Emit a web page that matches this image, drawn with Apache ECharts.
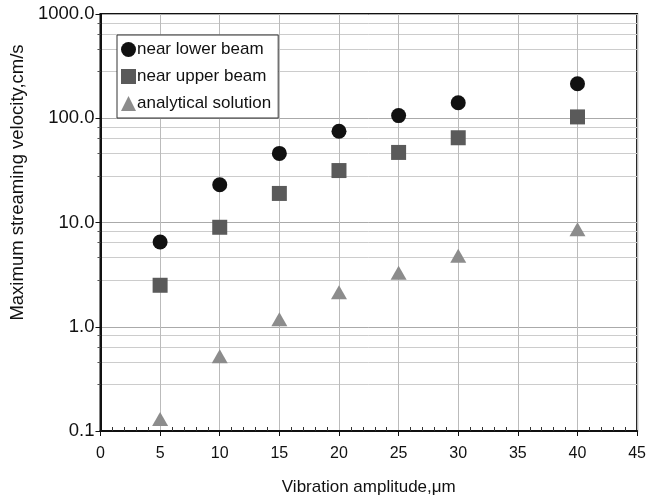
<!DOCTYPE html>
<html>
<head>
<meta charset="utf-8">
<script src="https://cdn.jsdelivr.net/npm/echarts@6/dist/echarts.min.js"></script>
<style>
	html, body { margin: 0; padding: 0; background: #fff; }
	#chart { width: 649px; height: 501px; }
</style>
</head>
<body>
<div id="chart"></div>
<script>
// amplitude (um)
var amplitudes = [5, 10, 15, 20, 25, 30, 40];
// max streaming velocity (cm/s)
var nearLowerBeam = [6.5, 23, 46, 75, 106, 141, 214];
var nearUpperBeam = [2.5, 9, 19, 31.5, 47, 65, 103];
var analyticalSolution = [0.13, 0.52, 1.18, 2.14, 3.3, 4.8, 8.6];

var seriesNames = ['near lower beam', 'near upper beam', 'analytical solution'];

function pairs(ys)
{
	return amplitudes.map(function(x, i) { return [x, ys[i]]; });
}

var fontFamily = 'Liberation Sans, Arial, sans-serif';

var chart = echarts.init(document.getElementById('chart'));

var options =
{
	backgroundColor: '#fff',
	animation: false,
	textStyle: { fontFamily: fontFamily, color: '#111' },
	grid:
	{
		left: 98,
		right: 9,
		top: 14,
		bottom: 69,
		show: true,
		borderColor: '#111',
		borderWidth: 2
	},
	legend:
	{
		orient: 'vertical',
		left: 117,
		top: 35,
		itemGap: 10,
		itemWidth: 15,
		itemHeight: 15,
		padding: [6, 7, 6, 4],
		borderColor: '#333',
		borderWidth: 1,
		backgroundColor: '#fff',
		textStyle: { fontSize: 17, color: '#111', fontFamily: fontFamily, padding: [0, 0, 0, -4] },
		data: seriesNames
	},
	xAxis:
	{
		type: 'value',
		min: 0,
		max: 45,
		interval: 5,
		name: 'Vibration amplitude,\u03bcm',
		nameLocation: 'middle',
		nameGap: 48,
		nameTextStyle: { fontSize: 17, color: '#111', fontFamily: fontFamily },
		axisLine: { lineStyle: { color: '#111', width: 2 } },
		axisTick: { show: true, length: 5, lineStyle: { color: '#111' } },
		minorTick: { show: true, splitNumber: 5, length: -4, lineStyle: { color: '#333' } },
		axisLabel: { fontSize: 16, color: '#111', margin: 15, fontFamily: fontFamily },
		splitLine: { show: true, lineStyle: { color: '#bbb', width: 1 } }
	},
	yAxis:
	{
		type: 'log',
		logBase: 10,
		min: 0.1,
		max: 1000,
		name: 'Maximum streaming velocity,cm/s',
		nameLocation: 'middle',
		nameGap: 72,
		nameTextStyle: { fontSize: 18.5, color: '#111', fontFamily: fontFamily, padding: [0, 0, 0, 80] },
		axisLine: { show: true, lineStyle: { color: '#111', width: 2 } },
		axisTick: { show: true, length: 5, lineStyle: { color: '#111' } },
		minorTick: { show: true, splitNumber: 5, length: 3, lineStyle: { color: '#555' } },
		axisLabel:
		{
			fontSize: 18.5,
			color: '#111',
			margin: 6,
			fontFamily: fontFamily,
			formatter: function(v) { return Number(v).toFixed(1); }
		},
		splitLine: { show: true, lineStyle: { color: '#aaa', width: 1 } },
		minorSplitLine: { show: true, lineStyle: { color: '#ccc', width: 1 } }
	},
	series:
	[
		{
			name: seriesNames[0],
			type: 'scatter',
			symbol: 'circle',
			symbolSize: 15,
			itemStyle: { color: '#111', opacity: 1 },
			data: pairs(nearLowerBeam)
		},
		{
			name: seriesNames[1],
			type: 'scatter',
			symbol: 'rect',
			symbolSize: 15,
			itemStyle: { color: '#5a5a5a', opacity: 1 },
			data: pairs(nearUpperBeam)
		},
		{
			name: seriesNames[2],
			type: 'scatter',
			symbol: 'triangle',
			symbolSize: [16, 14],
			itemStyle: { color: '#8c8c8c', opacity: 1 },
			data: pairs(analyticalSolution)
		}
	]
};

chart.setOption(options);
</script>
</body>
</html>
